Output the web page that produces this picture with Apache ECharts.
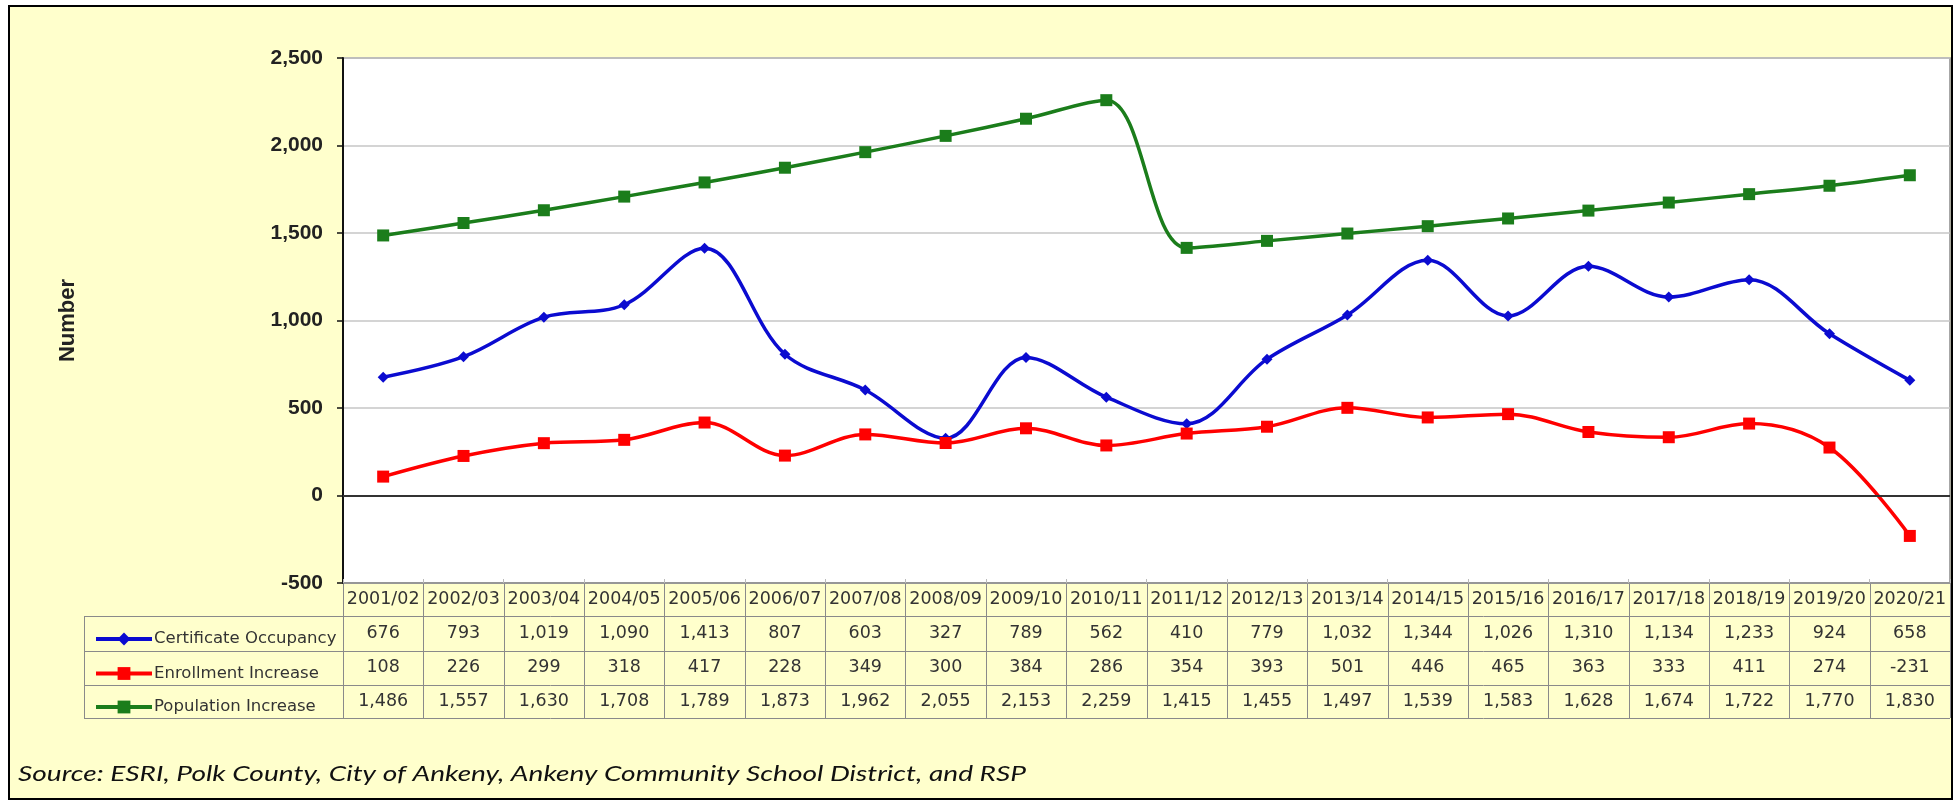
<!DOCTYPE html>
<html>
<head>
<meta charset="utf-8">
<script src="https://cdn.jsdelivr.net/npm/echarts@6/dist/echarts.min.js"></script>
<style>
  html, body { margin: 0; padding: 0; background: #ffffff; }
  #frame { position: absolute; left: 8px; top: 5px; width: 1941px; height: 791px; border: 2px solid #000; background: #FFFFCC; }
  #c { position: absolute; left: 0; top: 0; width: 1957px; height: 804px; }
</style>
</head>
<body>
<div id="frame"></div>
<div id="c"></div>
<script>
const categories = ['2001/02','2002/03','2003/04','2004/05','2005/06','2006/07','2007/08','2008/09','2009/10','2010/11',
                    '2011/12','2012/13','2013/14','2014/15','2015/16','2016/17','2017/18','2018/19','2019/20','2020/21'];
const certificateOccupancy = [676, 793, 1019, 1090, 1413, 807, 603, 327, 789, 562, 410, 779, 1032, 1344, 1026, 1310, 1134, 1233, 924, 658];
const enrollmentIncrease   = [108, 226, 299, 318, 417, 228, 349, 300, 384, 286, 354, 393, 501, 446, 465, 363, 333, 411, 274, -231];
const populationIncrease   = [1486, 1557, 1630, 1708, 1789, 1873, 1962, 2055, 2153, 2259, 1415, 1455, 1497, 1539, 1583, 1628, 1674, 1722, 1770, 1830];
const seriesNames = ['Certificate Occupancy', 'Enrollment Increase', 'Population Increase'];
const yTicks = { min: -500, max: 2500, interval: 500 };
const sourceText = 'Source: ESRI, Polk County, City of Ankeny, Ankeny Community School District, and RSP';

const W = 1957, H = 804;
const gridLeft = 343, gridRight = 1950, gridTop = 58, gridBottom = 583;
const rowLines = [616, 651, 685, 718];
const tableLeft = 84;
const colW = (gridRight - gridLeft) / categories.length;

const fmt = v => v.toLocaleString('en-US');
const tableFont = 'DejaVu Sans';

// stretch source text to the reference width
const srcFont = 'italic 22px Lato';
const mctx = document.createElement('canvas').getContext('2d');
mctx.font = srcFont;
const srcScale = 1008 / mctx.measureText(sourceText).width;

const graphics = [];
const lineStyle = { stroke: '#8a8a8a', lineWidth: 1 };
for (let i = 0; i <= categories.length; i++) {
  const x = Math.round(gridLeft + i * colW) + 0.5;
  graphics.push({ type: 'line', silent: true, shape: { x1: x, y1: gridBottom, x2: x, y2: rowLines[3] }, style: lineStyle });
}
graphics.push({ type: 'line', silent: true, shape: { x1: tableLeft + 0.5, y1: rowLines[0], x2: tableLeft + 0.5, y2: rowLines[3] }, style: lineStyle });
rowLines.forEach(y => {
  graphics.push({ type: 'line', silent: true, shape: { x1: tableLeft, y1: y + 0.5, x2: gridRight, y2: y + 0.5 }, style: lineStyle });
});
graphics.push({
  type: 'text', x: 18, y: 774, scaleX: srcScale, silent: true,
  style: { text: sourceText, font: srcFont, fill: '#111', textVerticalAlign: 'middle', verticalAlign: 'middle' }
});

const chart = echarts.init(document.getElementById('c'), null, { renderer: 'canvas', width: W, height: H });

const colors = ['#0b0bd0', '#ff0000', '#1b7d1b'];
const symbols = ['diamond', 'rect', 'rect'];
const symbolSizes = [11, 12, 12];
const dataSets = [certificateOccupancy, enrollmentIncrease, populationIncrease];

const rowCenters = [(rowLines[0] + rowLines[1]) / 2, (rowLines[1] + rowLines[2]) / 2, (rowLines[2] + rowLines[3]) / 2];

chart.setOption({
  backgroundColor: 'transparent',
  animation: false,
  grid: {
    left: gridLeft, top: gridTop, width: gridRight - gridLeft, height: gridBottom - gridTop,
    show: true, backgroundColor: '#ffffff', borderColor: '#8a8a8a', borderWidth: 1.5
  },
  legend: seriesNames.map((n, i) => ({
    data: [n], left: 89, top: rowCenters[i] - 8, itemWidth: 56, itemHeight: 16, itemGap: 4,
    selectedMode: false,
    lineStyle: { width: 4 },
    textStyle: { fontFamily: tableFont, fontSize: 16.5, color: '#333', padding: [0, 0, 0, -3] }
  })),
  xAxis: {
    type: 'category', data: categories, boundaryGap: true,
    axisLine: { show: true, onZero: false, lineStyle: { color: '#8a8a8a', width: 1.5 } },
    axisTick: { show: true, inside: true, length: 4, lineStyle: { color: '#bbb' } },
    splitLine: { show: false },
    axisLabel: {
      interval: 0, margin: 0,
      formatter: (v, idx) => `{c|${v}}\n{v|${fmt(certificateOccupancy[idx])}}\n{v|${fmt(enrollmentIncrease[idx])}}\n{v|${fmt(populationIncrease[idx])}}`,
      rich: {
        c: { fontFamily: tableFont, fontSize: 17.5, color: '#333', lineHeight: rowLines[0] - gridBottom, height: rowLines[0] - gridBottom },
        v: { fontFamily: tableFont, fontSize: 17.5, color: '#333', lineHeight: (rowLines[3] - rowLines[0]) / 3, height: (rowLines[3] - rowLines[0]) / 3 }
      }
    }
  },
  yAxis: {
    type: 'value', min: yTicks.min, max: yTicks.max, interval: yTicks.interval,
    name: 'Number', nameLocation: 'middle', nameGap: 264, nameRotate: 90,
    nameTextStyle: { fontFamily: 'Liberation Sans', fontWeight: 'bold', fontSize: 22, color: '#222' },
    axisLine: { show: true, lineStyle: { color: '#111', width: 2 } },
    axisTick: { show: true, length: 6, lineStyle: { color: '#111', width: 1.5 } },
    splitLine: { show: true, lineStyle: { color: '#c6c6c6', width: 1.5 } },
    axisLabel: {
      margin: 20, fontFamily: 'Liberation Sans', fontWeight: 'bold', fontSize: 21, color: '#222',
      formatter: v => fmt(v)
    }
  },
  series: seriesNames.map((n, i) => ({
    name: n, type: 'line', data: dataSets[i], smooth: 0.35,
    symbol: symbols[i], symbolSize: symbolSizes[i],
    lineStyle: { color: colors[i], width: 3.5 },
    itemStyle: { color: colors[i] },
    z: 3 + i,
    markLine: i === 0 ? {
      silent: true, symbol: 'none', label: { show: false },
      lineStyle: { color: '#333', width: 2, type: 'solid' },
      data: [{ yAxis: 0 }]
    } : undefined
  })),
  graphic: graphics
});
</script>
</body>
</html>
